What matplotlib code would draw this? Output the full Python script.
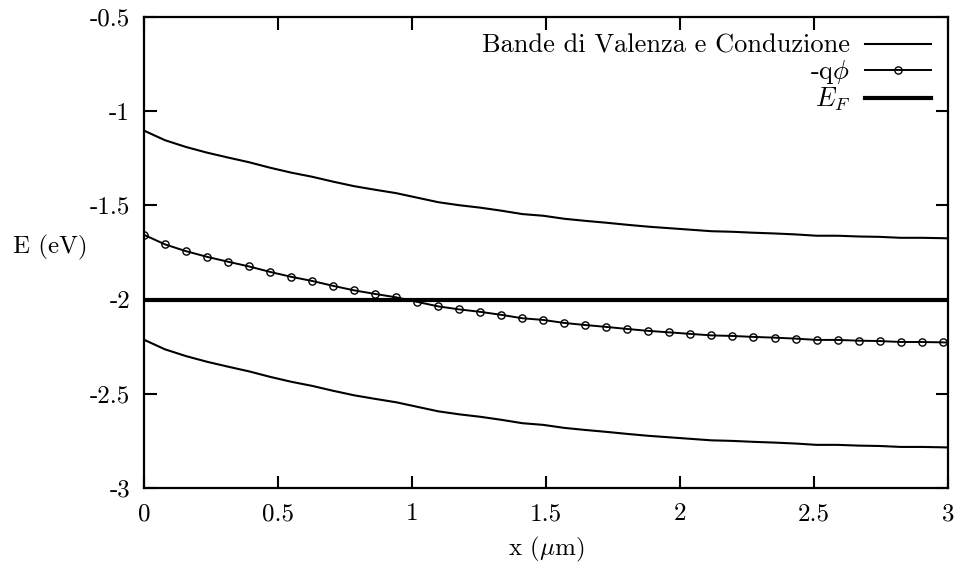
import numpy as np
import matplotlib
matplotlib.use("Agg")
import matplotlib.pyplot as plt

# stile tipo gnuplot/LaTeX
plt.rcParams['font.family'] = ['cmr10', 'DejaVu Serif']
plt.rcParams['mathtext.fontset'] = 'cm'
plt.rcParams['axes.unicode_minus'] = False

# posizioni x (um): 39 marcatori + estremo destro
x = np.append(np.linspace(0, 2.98, 39), 3.0)

# -q phi (eV)
phi = [-1.656, -1.707, -1.743, -1.773, -1.799, -1.824, -1.853, -1.879, -1.901, -1.927,
       -1.951, -1.970, -1.988, -2.012, -2.036, -2.052, -2.065, -2.081, -2.099, -2.108,
       -2.124, -2.135, -2.145, -2.156, -2.166, -2.174, -2.182, -2.190, -2.193, -2.198,
       -2.202, -2.207, -2.214, -2.214, -2.218, -2.220, -2.225, -2.225, -2.227, -2.228]

# banda di conduzione
ec = [-1.103, -1.154, -1.190, -1.220, -1.246, -1.271, -1.300, -1.326, -1.348, -1.374,
      -1.398, -1.417, -1.435, -1.459, -1.483, -1.499, -1.512, -1.528, -1.546, -1.555,
      -1.571, -1.582, -1.592, -1.603, -1.613, -1.621, -1.629, -1.637, -1.640, -1.645,
      -1.649, -1.654, -1.661, -1.661, -1.665, -1.667, -1.672, -1.672, -1.674, -1.675]

# banda di valenza
ev = [-2.213, -2.264, -2.300, -2.330, -2.356, -2.381, -2.410, -2.436, -2.458, -2.484,
      -2.508, -2.527, -2.545, -2.569, -2.593, -2.609, -2.622, -2.638, -2.656, -2.665,
      -2.681, -2.692, -2.702, -2.713, -2.723, -2.731, -2.739, -2.747, -2.750, -2.755,
      -2.759, -2.764, -2.771, -2.771, -2.775, -2.777, -2.782, -2.782, -2.784, -2.785]

# livello di Fermi
ef_x = [0, 3]
ef = [-2.0, -2.0]

xticks = [0, 0.5, 1, 1.5, 2, 2.5, 3]
xlabels = ['0', '0.5', '1', '1.5', '2', '2.5', '3']
yticks = [-3, -2.5, -2, -1.5, -1, -0.5]
ylabels = ['-3', '-2.5', '-2', '-1.5', '-1', '-0.5']

fig = plt.figure(figsize=(9.61, 5.71), dpi=100)
ax = fig.add_axes([144/961, 1 - 488/571, 804/961, 471/571])

ax.plot(x, ec, color='black', lw=1.5, label='Bande di Valenza e Conduzione')
ax.plot(x, phi, color='black', lw=1.4, marker='o', markersize=5.2, mfc='none',
        mew=1.0, markevery=slice(0, 39), label=r'-q$\phi$')
ax.plot(ef_x, ef, color='black', lw=3.0, label=r'$E_F$')
ax.plot(x, ev, color='black', lw=1.5)

ax.set_xlim(0, 3)
ax.set_ylim(-3, -0.5)
ax.set_xticks(xticks)
ax.set_xticklabels(xlabels)
ax.set_yticks(yticks)
ax.set_yticklabels(ylabels)
ax.tick_params(direction='in', length=9, width=1.5, top=True, right=True,
               labelsize=18)
ax.tick_params(axis='x', pad=11)
ax.tick_params(axis='y', pad=10)
for s in ax.spines.values():
    s.set_linewidth(1.6)

ax.set_xlabel(r'x ($\mu$m)', fontsize=18, labelpad=7)
ax.set_ylabel('E (eV)', fontsize=18, rotation=0, ha='center', va='center')
ax.yaxis.set_label_coords(-0.116, 0.51)

ax.legend(loc='upper right', frameon=False, markerfirst=False, fontsize=19,
          handlelength=2.5, labelspacing=0.0, borderaxespad=0.25,
          handletextpad=0.55)

plt.savefig("out.png", dpi=100)
